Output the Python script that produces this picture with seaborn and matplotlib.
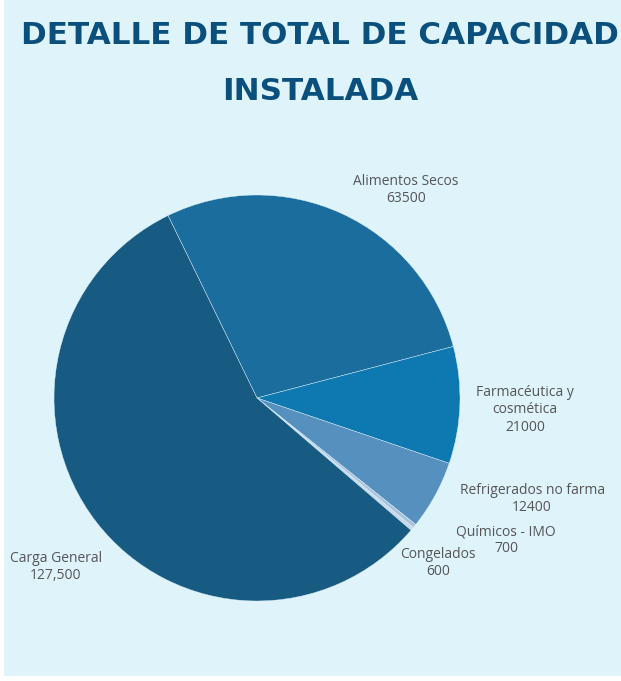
import matplotlib
matplotlib.use('Agg')
import matplotlib.pyplot as plt
import seaborn as sns
from matplotlib.patches import Rectangle

# Data
categories = ['Alimentos Secos', 'Farmacéutica y\ncosmética', 'Refrigerados no farma',
              'Químicos - IMO', 'Congelados', 'Carga General']
values = [63500, 21000, 12400, 700, 600, 127500]
value_labels = ['63500', '21000', '12400', '700', '600', '127,500']
colors = ['#1a6d9c', '#0e78b0', '#5590bf', '#a9c3dc', '#c9d9e9', '#175b83']

# label positions in pie units (radius = 1)
label_pos = [(0.734, 1.025), (1.320, -0.059), (1.355, -0.498),
             (1.227, -0.700), (0.892, -0.813), (-0.990, -0.833)]

sns.set_theme(style='white')
plt.rcParams['font.family'] = ['Open Sans', 'DejaVu Sans']

bg = '#dff3fb'
fig = plt.figure(figsize=(6.21, 6.81), dpi=100)
fig.patch.set_facecolor('white')
fig.patches.append(Rectangle((4 / 621, 5 / 681), 617 / 621, 676 / 681,
                             transform=fig.transFigure, facecolor=bg,
                             edgecolor='none', zorder=-10))

W, H = 621, 681
cx, cy, r = 257, 398, 203
ax = fig.add_axes([(cx - r) / W, (H - cy - r) / H, 2 * r / W, 2 * r / H])
ax.set_facecolor('none')
ax.set_zorder(5)

ax.pie(values, colors=colors, startangle=116, counterclock=False,
       wedgeprops={'edgecolor': bg, 'linewidth': 0.3})
ax.set_xlim(-1, 1)
ax.set_ylim(-1, 1)
ax.set_aspect('equal')
ax.axis('off')

for cat, val, (px, py) in zip(categories, value_labels, label_pos):
    ax.text(px, py, f'{cat}\n{val}', ha='center', va='center', fontsize=10,
            color='#555555', linespacing=1.2, clip_on=False)

title_color = '#0b4f7c'
for txt, y in [('DETALLE DE TOTAL DE CAPACIDAD', 35), ('INSTALADA', 92)]:
    fig.text(320 / W, 1 - y / H, txt, ha='center', va='center',
             fontsize=22.3, fontweight='bold', color=title_color,
             family='DejaVu Sans')

fig.savefig('out.png', dpi=100, facecolor=fig.get_facecolor())
